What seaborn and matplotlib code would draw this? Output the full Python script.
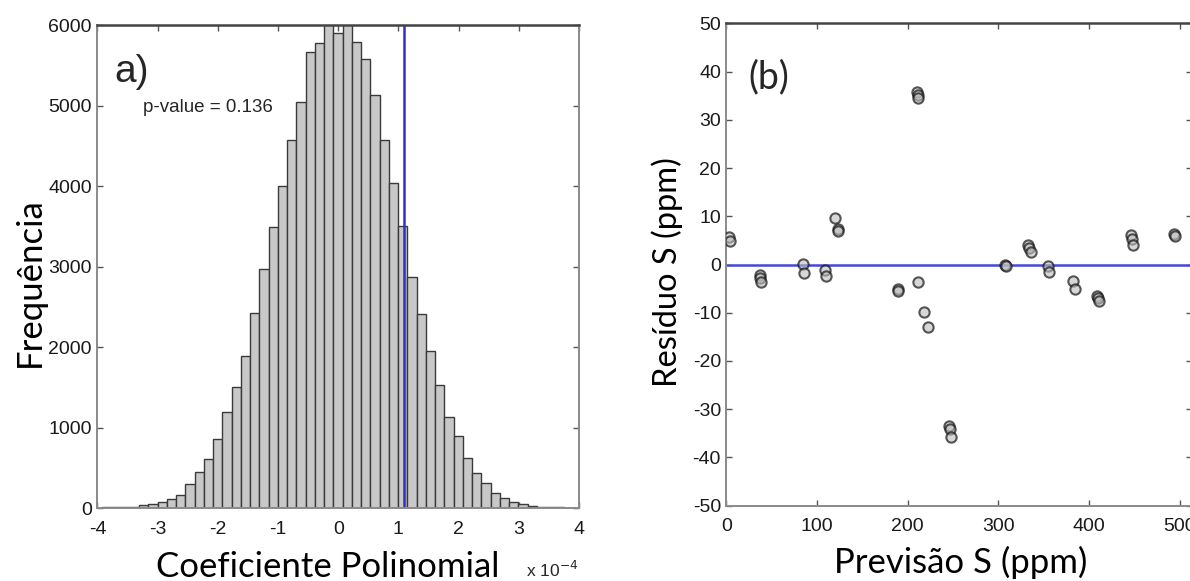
import numpy as np
import pandas as pd
import matplotlib
matplotlib.use("Agg")
import matplotlib.pyplot as plt
import seaborn as sns

# ---------------- data ----------------
# histogram (a): counts per bin, coefficient in units of 1e-4
bin_start = -3.92
bin_width = 0.1536
hist_counts = [12, 14, 15, 18, 33, 50, 72, 115, 161, 295,
               451, 605, 853, 1190, 1507, 1888, 2418, 2967, 3494, 4000,
               4571, 5040, 5661, 5780, 6050, 5897, 6040, 5793, 5573, 5130,
               4571, 4041, 3498, 2873, 2410, 1954, 1528, 1135, 899, 617,
               439, 307, 182, 128, 79, 46, 29, 17, 16, 12]
observed_coef = 1.095
p_value_text = "p-value = 0.136"
hist_xticks = [-4, -3, -2, -1, 0, 1, 2, 3, 4]
hist_yticks = [0, 1000, 2000, 3000, 4000, 5000, 6000]

# scatter (b): predicted S vs residual S
pred_s = [3, 4, 37, 37.5, 38, 84, 85.5, 109, 110, 120, 122.5, 123.5, 189, 189.5,
          210, 211, 211, 211.5, 218, 222, 245, 246, 248, 307, 308, 333, 334, 335.5,
          354.5, 355.5, 382, 384, 409, 410, 411, 446, 447, 448, 494, 494.5]
resid_s = [5.8, 4.8, -2.1, -2.8, -3.7, 0.1, -1.7, -1.2, -2.4, 9.7, 7.3, 6.9, -5.0, -5.4,
           35.8, 35.1, 34.6, -3.7, -9.9, -12.9, -33.4, -34.0, -35.7, 0.0, -0.3, 4.0, 3.4, 2.6,
           -0.4, -1.6, -3.5, -5.0, -6.6, -7.0, -7.5, 6.2, 5.2, 4.1, 6.3, 6.0]
scat_xticks = [0, 100, 200, 300, 400, 500]
scat_yticks = [-50, -40, -30, -20, -10, 0, 10, 20, 30, 40, 50]

# ---------------- style ----------------
sns.set_theme(style="white")
plt.rcParams["font.family"] = ["Liberation Sans", "DejaVu Sans"]
plt.rcParams["axes.unicode_minus"] = False

TICK_FONT = ["Liberation Sans", "DejaVu Sans"]
LABEL_FONT = ["Lato", "DejaVu Sans"]

fig = plt.figure(figsize=(11.9, 5.81), dpi=100)
ax1 = fig.add_axes([0.0819, 0.1256, 0.4046, 0.8313])
ax2 = fig.add_axes([0.6105, 0.1296, 0.3908, 0.8303])

# ---------------- (a) histogram ----------------
edges = [float(e) for e in bin_start + bin_width * np.arange(len(hist_counts) + 1)]
centers = [(edges[i] + edges[i + 1]) / 2 for i in range(len(hist_counts))]
df_h = pd.DataFrame({"coef": centers, "count": hist_counts})
sns.histplot(data=df_h, x="coef", weights="count", bins=edges, ax=ax1,
             color="#c8c8c8", edgecolor="#3a3a3a", linewidth=1.0, alpha=1.0)
ax1.axvline(observed_coef, color="#3030c8", linewidth=1.8)
ax1.set_xlim(-4, 4)
ax1.set_ylim(0, 6000)
ax1.set_xticks(hist_xticks)
ax1.set_yticks(hist_yticks)
ax1.set_xticklabels([str(t) for t in hist_xticks], family=TICK_FONT, fontsize=14)
ax1.set_yticklabels([str(t) for t in hist_yticks], family=TICK_FONT, fontsize=14)
ax1.set_xlabel("Coeficiente Polinomial", family=LABEL_FONT, fontsize=25, color="black", va="center")
ax1.xaxis.set_label_coords(0.479, -0.122)
ax1.set_ylabel("Frequência", family=LABEL_FONT, fontsize=25, color="black", va="center")
ax1.yaxis.set_label_coords(-0.14, 0.468)
ax1.text(0.036, 0.882, "a)", transform=ax1.transAxes, fontsize=28, va="baseline", ha="left",
         family=["Liberation Sans"])
ax1.text(0.094, 0.820, p_value_text, transform=ax1.transAxes, fontsize=13.5, va="baseline",
         ha="left", family=TICK_FONT)
ax1.text(0.998, -0.143, r"x 10$^{-4}$", transform=ax1.transAxes, fontsize=12.5, va="baseline",
         ha="right", family=TICK_FONT)

# ---------------- (b) scatter ----------------
df_s = pd.DataFrame({"pred": pred_s, "resid": resid_s})
ax2.axhline(0, color="#4646dc", linewidth=1.8, zorder=1)
sns.scatterplot(data=df_s, x="pred", y="resid", ax=ax2, s=55,
                facecolor=(0.74, 0.74, 0.74, 0.6), edgecolor=(0.08, 0.08, 0.08, 0.7),
                linewidth=1.5, zorder=3)
ax2.set_xlim(0, 513)
ax2.set_ylim(-50, 50)
ax2.set_xticks(scat_xticks)
ax2.set_yticks(scat_yticks)
ax2.set_xticklabels([str(t) for t in scat_xticks], family=TICK_FONT, fontsize=14)
ax2.set_yticklabels([str(t) for t in scat_yticks], family=TICK_FONT, fontsize=14)
ax2.set_xlabel("Previsão S (ppm)", family=LABEL_FONT, fontsize=25, color="black", va="center")
ax2.xaxis.set_label_coords(0.503, -0.117)
ax2.set_ylabel("Resíduo S (ppm)", family=LABEL_FONT, fontsize=23.5, color="black", va="center")
ax2.yaxis.set_label_coords(-0.128, 0.484)
ax2.text(0.046, 0.889, "(b)", transform=ax2.transAxes, fontsize=27, va="center", ha="left",
         family=LABEL_FONT)

# ---------------- MATLAB-like boxes ----------------
for ax in (ax1, ax2):
    ax.tick_params(axis="both", which="both", direction="in", length=4, width=1,
                   color="#555555", top=True, right=True, bottom=True, left=True,
                   labelcolor="#1a1a1a")
    ax.tick_params(axis="x", pad=9)
    ax.tick_params(axis="y", pad=4)
    for side in ("left", "bottom", "right"):
        ax.spines[side].set_visible(True)
        ax.spines[side].set_color("#8a8a8a")
        ax.spines[side].set_linewidth(1.4)
    ax.spines["top"].set_visible(True)
    ax.spines["top"].set_color("#444444")
    ax.spines["top"].set_linewidth(1.8)
    ax.set_facecolor("white")
    ax.grid(False)

fig.savefig("out.png", dpi=100, facecolor="white")
